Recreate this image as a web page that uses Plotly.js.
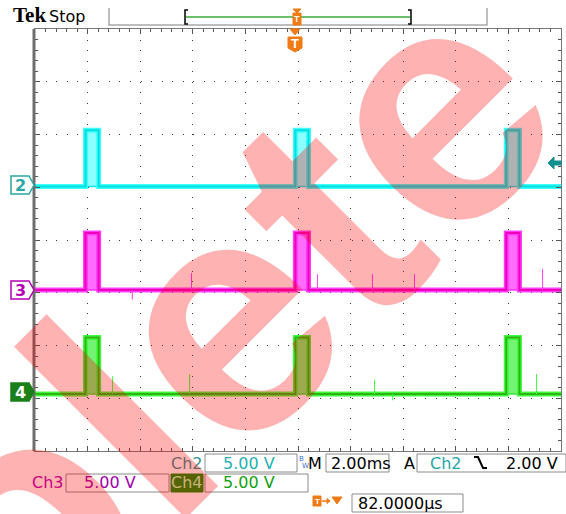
<!DOCTYPE html>
<html><head><meta charset="utf-8">
<script src="https://cdn.plot.ly/plotly-3.0.1.min.js"></script>
<style>html,body{margin:0;padding:0;background:#fff}#chart{width:566px;height:514px}</style>
</head><body><div id="chart"></div>
<script>
// ---------------- data ----------------
const channelNames   = ['2', '3', '4'];
const voltsPerDiv    = [5, 5, 5];
const positionDiv    = [1, -1, -3];          // channel position offsets (div)
const baselineVolts  = [0.07, 0.26, 0.40];   // low level of each trace (V)
const pulseHighVolts = [5.40, 5.66, 5.76];   // high level of each pulse (V)
const pulseStartMs   = [-8.08, -0.10, 7.92]; // pulse rising edges (ms)
const pulseWidthMs   = [0.50, 0.50, 0.50];   // pulse widths (ms)
const ch3GlitchMs    = [-6.3, -4.05, 0.74, 2.83, 4.43, 9.30];
const ch3GlitchVolts = [-0.9, 1.60, 1.50, 1.50, 1.50, 2.00];
const ch4GlitchMs    = [-7.05, -4.12, 2.91, 3.60, 9.07];
const ch4GlitchVolts = [1.70, 1.90, 1.35, -0.60, 1.90];
const timeRangeMs    = [-10, 10];            // 2.00 ms/div, 10 div
const vertRangeDiv   = [-4, 4];              // 8 div

// ---------------- style ----------------
const outerColors = ['#3cffff', '#ff3cff', '#3cff3c'];
const innerColors = ['#00dede', '#f000b8', '#2fb414'];
const pulseFill   = ['#8cffff', '#ff6cff', '#72f472'];
const pulseEdge   = ['#10eaea', '#ff30ff', '#40e040'];

const toDiv = (ci, v) => positionDiv[ci] + v / voltsPerDiv[ci];

const traces = [];
for (let ci = 0; ci < 3; ci++) {
  const bx = [timeRangeMs[0]], by = [toDiv(ci, baselineVolts[ci])];
  pulseStartMs.forEach((t0, k) => {
    const t1 = t0 + pulseWidthMs[k];
    bx.push(t0, t0, t1, t1);
    by.push(toDiv(ci, baselineVolts[ci]), toDiv(ci, pulseHighVolts[ci]),
            toDiv(ci, pulseHighVolts[ci]), toDiv(ci, baselineVolts[ci]));
  });
  bx.push(timeRangeMs[1]); by.push(toDiv(ci, baselineVolts[ci]));
  const fx = [], fy = [];
  pulseStartMs.forEach((t0, k) => {
    const t1 = t0 + pulseWidthMs[k];
    fx.push(t0, t0, t1, t1, t0, null);
    fy.push(toDiv(ci, baselineVolts[ci]), toDiv(ci, pulseHighVolts[ci]),
            toDiv(ci, pulseHighVolts[ci]), toDiv(ci, baselineVolts[ci]),
            toDiv(ci, baselineVolts[ci]), null);
  });
  traces.push({x: fx, y: fy, mode: 'lines', fill: 'toself', fillcolor: pulseFill[ci],
               line: {color: pulseEdge[ci], width: 1.5}, hoverinfo: 'skip', showlegend: false});
  traces.push({x: bx, y: by, mode: 'lines', line: {color: outerColors[ci], width: 5},
               hoverinfo: 'skip', showlegend: false});
  traces.push({x: bx, y: by, mode: 'lines', line: {color: innerColors[ci], width: 2},
               hoverinfo: 'skip', showlegend: false});
}
function glitchTrace(ci, times, volts) {
  const gx = [], gy = [];
  times.forEach((t, k) => {
    gx.push(t, t, null);
    gy.push(toDiv(ci, baselineVolts[ci]), toDiv(ci, baselineVolts[ci] + volts[k]), null);
  });
  return {x: gx, y: gy, mode: 'lines', line: {color: outerColors[ci], width: 1},
          hoverinfo: 'skip', showlegend: false};
}
traces.push(glitchTrace(1, ch3GlitchMs, ch3GlitchVolts));
traces.push(glitchTrace(2, ch4GlitchMs, ch4GlitchVolts));

// ---------------- layout helpers (pixel -> paper) ----------------
const L = 35, T = 29, W = 526, H = 422;
const px = x => (x - L) / W;
const py = y => (T + H - y) / H;
const FONT = 'DejaVu Sans';

function rect(x0, y0, x1, y1, line, fill, lw) {
  return {type: 'rect', xref: 'paper', yref: 'paper', x0: px(x0), x1: px(x1), y0: py(y1), y1: py(y0),
          line: {color: line || 'rgba(0,0,0,0)', width: lw === undefined ? 1 : lw},
          fillcolor: fill || 'rgba(0,0,0,0)', layer: 'above'};
}
function path(pts, line, fill, lw, close) {
  let d = 'M' + pts.map(p => px(p[0]) + ',' + py(p[1])).join(' L');
  if (close) d += ' Z';
  return {type: 'path', xref: 'paper', yref: 'paper', path: d,
          line: {color: line || 'rgba(0,0,0,0)', width: lw === undefined ? 1 : lw},
          fillcolor: fill || 'rgba(0,0,0,0)', layer: 'above'};
}
function txt(x, y, s, color, size, anchor, family, weight) {
  return {xref: 'paper', yref: 'paper', x: px(x), y: py(y), text: s, showarrow: false,
          xanchor: anchor || 'left', yanchor: 'middle', borderpad: 0,
          font: {family: family || FONT, size: size || 16, color: color || '#000', weight: weight || 'normal'}};
}

const ORANGE = '#f07a14';
const shapes = [
  {type: 'line', xref: 'paper', yref: 'paper', x0: px(34), x1: px(34), y0: 0, y1: 1,
   line: {color: '#6e6e6e', width: 3}, layer: 'above'},
  path([[109, 8], [109, 25], [487, 25], [487, 8]], '#a8a8a8', null, 1.5),
  {type: 'line', xref: 'paper', yref: 'paper', x0: px(186), x1: px(410), y0: py(17), y1: py(17),
   line: {color: '#6cbf6c', width: 2}, layer: 'above'},
  path([[188, 10], [185, 10], [185, 24], [188, 24]], '#000', null, 1.5),
  path([[408, 10], [411, 10], [411, 24], [408, 24]], '#000', null, 1.5),
  path([[293, 9], [301, 9], [297, 13]], ORANGE, ORANGE, 1, true),
  rect(293, 13, 301, 25, ORANGE, ORANGE),
  path([[290, 29], [300, 29], [295, 35]], ORANGE, ORANGE, 1, true),
  path([[288, 37], [302, 37], [302, 48], [295, 52], [288, 48]], ORANGE, ORANGE, 1, true),
  path([[11, 176], [29, 176], [34, 185], [29, 194], [11, 194]], '#2aa6a6', '#ffffff', 1.5, true),
  path([[11, 281], [29, 281], [34, 290], [29, 299], [11, 299]], '#b400b4', '#ffffff', 1.5, true),
  path([[11, 383], [29, 383], [34, 392], [29, 401], [11, 401]], '#1a801a', '#1a801a', 1.5, true),
  path([[548, 163], [554, 157], [554, 161], [561, 161], [561, 165], [554, 165], [554, 169]], '#138f8f', '#138f8f', 1, true),
  rect(205, 454, 297, 472, '#8c8c8c'),
  rect(326, 454, 389, 472, '#8c8c8c'),
  rect(417, 454, 566, 472, '#8c8c8c'),
  rect(66, 474, 169, 492, '#8c8c8c'),
  rect(171, 474, 203, 492, '#0c8f00', '#0c8f00'),
  rect(205, 474, 308, 492, '#8c8c8c'),
  rect(352, 494, 463, 512, '#8c8c8c'),
  path([[474, 457], [478, 457], [483, 468], [487, 468]], '#000', null, 2),
  rect(313, 496, 321, 506, ORANGE, ORANGE),
  {type: 'line', xref: 'paper', yref: 'paper', x0: px(322), x1: px(329), y0: py(501), y1: py(501),
   line: {color: ORANGE, width: 1.5}, layer: 'above'},
  path([[327, 498.5], [330, 501], [327, 503.5]], ORANGE, ORANGE, 1, true),
  path([[332, 497], [342, 497], [337, 504]], ORANGE, ORANGE, 1, true)
];

const annotations = [
  txt(12, 15, 'Tek', '#000', 21, 'left', 'Liberation Serif', 'bold'),
  txt(48, 16, 'Stop', '#000', 16, 'left', FONT),
  txt(297, 19.5, 'T', '#fff', 9, 'center', 'Liberation Sans', 'bold'),
  txt(295, 44, 'T', '#fff', 13, 'center', 'Liberation Sans', 'bold'),
  txt(317, 501.5, 'T', '#fff', 8, 'center', 'Liberation Sans', 'bold'),
  txt(20, 185, '2', '#2aa6a6', 16, 'center', FONT, 'bold'),
  txt(20, 290, '3', '#b400b4', 16, 'center', FONT, 'bold'),
  txt(20, 392, '4', '#ffffff', 16, 'center', FONT, 'bold'),
  txt(204, 463, 'Ch2', '#358f8f', 16, 'right'),
  txt(222, 463, '5.00 V', '#1fb0b0', 16),
  txt(298, 459, 'B', '#3a6fd0', 7),
  txt(301, 466, 'W', '#3a6fd0', 7),
  txt(307, 463, 'M', '#000', 16),
  txt(330, 463, '2.00ms', '#000', 16),
  txt(403, 463, 'A', '#000', 16),
  txt(429, 463, 'Ch2', '#1fa6a6', 16),
  txt(559, 463, '2.00 V', '#000', 16, 'right'),
  txt(31, 483, 'Ch3', '#b400b4', 16),
  txt(83, 483, '5.00 V', '#a000a8', 16),
  txt(187, 483, 'Ch4', '#b4ffb4', 16, 'center'),
  txt(222, 483, '5.00 V', '#12a012', 16),
  txt(357, 503, '82.0000\u00b5s', '#000', 16),
  {xref: 'paper', yref: 'paper', x: px(-12), y: py(552), text: 'Obsolete', showarrow: false,
   xanchor: 'center', yanchor: 'middle', textangle: -45,
   font: {family: 'Liberation Sans', size: 335, weight: 'bold', color: 'rgba(255,0,0,0.3)'}}
];

const layout = {
  width: 566, height: 514,
  margin: {l: L, r: 566 - L - W, t: T, b: 514 - T - H, pad: 0},
  paper_bgcolor: '#ffffff', plot_bgcolor: '#ffffff',
  showlegend: false,
  xaxis: {range: timeRangeMs, dtick: 2, tick0: 0, showticklabels: false, zeroline: false,
          showgrid: true, gridcolor: '#3a3a3a', gridwidth: 1, griddash: '1px,9.52px',
          ticks: 'inside', ticklen: 5, tickcolor: '#555', mirror: 'allticks',
          showline: true, linecolor: '#777', linewidth: 1,
          minor: {ticks: 'inside', ticklen: 3, dtick: 0.4, tick0: 0, tickcolor: '#555', showgrid: false},
          fixedrange: true},
  yaxis: {range: vertRangeDiv, dtick: 1, tick0: 0, showticklabels: false, zeroline: false,
          showgrid: true, gridcolor: '#3a3a3a', gridwidth: 1, griddash: '1px,9.55px',
          ticks: 'inside', ticklen: 5, tickcolor: '#555', mirror: 'allticks',
          showline: true, linecolor: '#777', linewidth: 1,
          minor: {ticks: 'inside', ticklen: 3, dtick: 0.2, tick0: 0, tickcolor: '#555', showgrid: false},
          fixedrange: true},
  shapes: shapes,
  annotations: annotations
};

Plotly.newPlot('chart', traces, layout, {staticPlot: true, displayModeBar: false});
</script>
</body></html>
